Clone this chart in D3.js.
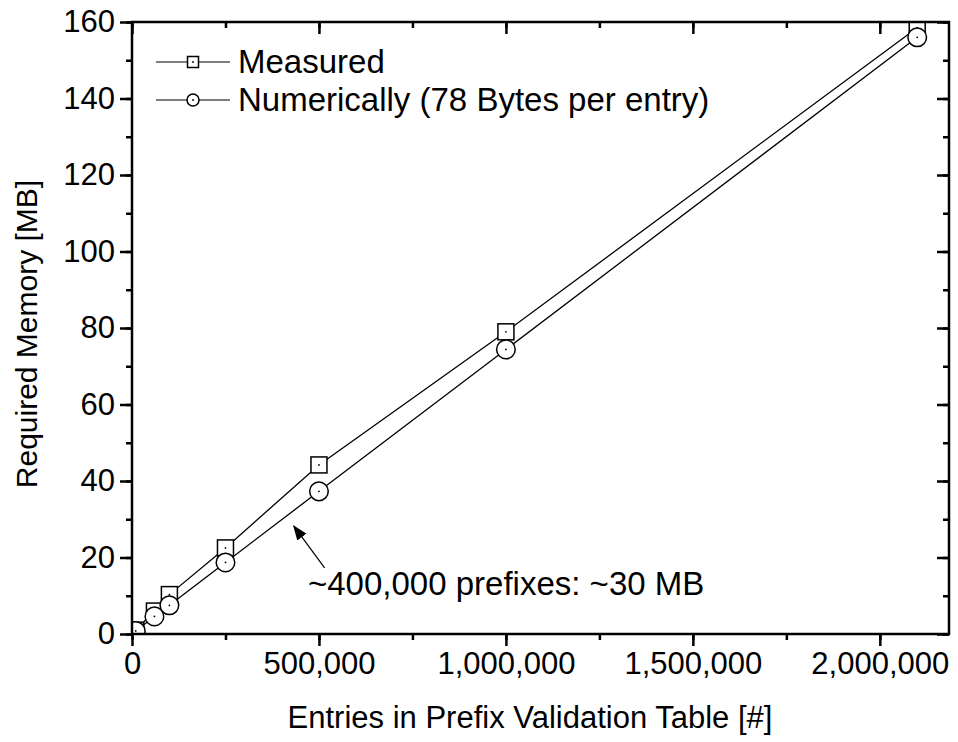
<!DOCTYPE html>
<html>
<head>
<meta charset="utf-8">
<script src="https://cdn.jsdelivr.net/npm/d3@7"></script>
<style>
  body { margin: 0; background: #fff; }
  text { font-family: "Liberation Sans", Arial, sans-serif; fill: #000; }
</style>
</head>
<body>
<svg id="svg" width="958" height="742"></svg>
<script>
// entries in the table
const entries = [10000, 60000, 100000, 250000, 500000, 1000000, 2100000];
// measured memory in MB
const measured = [1.0, 6.0, 10.3, 22.5, 44.2, 79.0, 158.5];
// computed memory in MB (78 bytes per entry)
const numerically = [0.8, 4.6, 7.5, 18.7, 37.3, 74.4, 156.0];
const xTicks = [0, 500000, 1000000, 1500000, 2000000];
const yTicks = [0, 20, 40, 60, 80, 100, 120, 140, 160];
const seriesNames = ["Measured", "Numerically (78 Bytes per entry)"];
const noteText = "~400,000 prefixes: ~30 MB";

let container = d3.select("#svg");
const pLeft = 132, pRight = 949, pTop = 22, pBottom = 634;
const tickFont = 31;

let xScale = d3.scaleLinear().domain([0, 2185000]).range([pLeft, pRight]);
let yScale = d3.scaleLinear().domain([0, 160]).range([pBottom, pTop]);

let defs = container.append("defs");
defs
  .append("marker")
  .attr("id", "arrow")
  .attr("viewBox", "0 0 10 10")
  .attr("refX", 9)
  .attr("refY", 5)
  .attr("markerWidth", 15)
  .attr("markerHeight", 15)
  .attr("markerUnits", "userSpaceOnUse")
  .attr("orient", "auto")
  .append("path")
  .attr("d", "M0,1.2 L10,5 L0,8.8 Z")
  .attr("fill", "#000");
defs
  .append("clipPath")
  .attr("id", "plotclip")
  .append("rect")
  .attr("x", pLeft)
  .attr("y", pTop)
  .attr("width", pRight - pLeft)
  .attr("height", pBottom - pTop);

let plot = container.append("g").attr("clip-path", "url(#plotclip)");

// lines
let lineGen = d3
  .line()
  .x((d) => xScale(d[0]))
  .y((d) => yScale(d[1]));

[measured, numerically].forEach((vals) => {
  plot
    .append("path")
    .datum(vals.map((v, i) => [entries[i], v]))
    .attr("d", lineGen)
    .attr("fill", "none")
    .attr("stroke", "#000")
    .attr("stroke-width", 1.3);
});

function drawSquare(g, cx, cy, s) {
  g.append("rect")
    .attr("x", cx - s / 2)
    .attr("y", cy - s / 2)
    .attr("width", s)
    .attr("height", s)
    .attr("fill", "#fff")
    .attr("stroke", "#000")
    .attr("stroke-width", 1.5);
  g.append("circle").attr("cx", cx).attr("cy", cy).attr("r", 0.9).attr("fill", "#000");
}
function drawCircle(g, cx, cy, r) {
  g.append("circle")
    .attr("cx", cx)
    .attr("cy", cy)
    .attr("r", r)
    .attr("fill", "#fff")
    .attr("stroke", "#000")
    .attr("stroke-width", 1.5);
  g.append("circle").attr("cx", cx).attr("cy", cy).attr("r", 0.9).attr("fill", "#000");
}

measured.forEach((v, i) => drawSquare(plot, xScale(entries[i]), yScale(v), 16));
numerically.forEach((v, i) => drawCircle(plot, xScale(entries[i]), yScale(v), 9.3));

// axes
const xMinor = d3.range(0, 2185000, 250000);
const yMinor = d3.range(0, 161, 10);

function styleTicks(g) {
  g.selectAll(".domain").remove();
  g.selectAll("line").attr("stroke", "#000").attr("stroke-width", 2.5);
  g.selectAll("text").style("font-size", tickFont + "px").attr("font-family", null);
}

function addAxis(axisFn, scale, values, size, transform, labels, pad) {
  let ax = axisFn(scale).tickValues(values).tickSize(size).tickPadding(pad || 6);
  if (!labels) ax.tickFormat("");
  else ax.tickFormat(d3.format(","));
  container.append("g").attr("transform", transform).call(ax).call(styleTicks);
}

// bottom and left, outward
addAxis(d3.axisBottom, xScale, xTicks, 12, "translate(0," + pBottom + ")", true, 6);
addAxis(d3.axisBottom, xScale, xMinor, 6, "translate(0," + pBottom + ")", false);
addAxis(d3.axisLeft, yScale, yTicks, 12, "translate(" + pLeft + ",0)", true, 5);
addAxis(d3.axisLeft, yScale, yMinor, 6, "translate(" + pLeft + ",0)", false);
// top and right, inward
addAxis(d3.axisBottom, xScale, xTicks, 12, "translate(0," + pTop + ")", false);
addAxis(d3.axisBottom, xScale, xMinor, 6, "translate(0," + pTop + ")", false);
addAxis(d3.axisLeft, yScale, yTicks, 12, "translate(" + pRight + ",0)", false);
addAxis(d3.axisLeft, yScale, yMinor, 6, "translate(" + pRight + ",0)", false);

// frame
container
  .append("rect")
  .attr("x", pLeft)
  .attr("y", pTop)
  .attr("width", pRight - pLeft)
  .attr("height", pBottom - pTop)
  .attr("fill", "none")
  .attr("stroke", "#000")
  .attr("stroke-width", 2.5);

// axis titles
container
  .append("text")
  .attr("x", 530)
  .attr("y", 728)
  .attr("text-anchor", "middle")
  .style("font-size", "31px")
  .text("Entries in Prefix Validation Table [#]");
container
  .append("text")
  .attr("transform", "translate(37,334) rotate(-90)")
  .attr("text-anchor", "middle")
  .style("font-size", "30px")
  .text("Required Memory [MB]");

// legend
var legend = container
  .selectAll(".legend")
  .data(seriesNames)
  .enter()
  .append("g")
  .attr("class", "legend")
  .attr("transform", (d, i) => "translate(156," + (62 + i * 38) + ")");
legend
  .append("line")
  .attr("x1", 0)
  .attr("x2", 74)
  .attr("stroke", "#000")
  .attr("stroke-width", 1.2);
legend.each(function (d, i) {
  if (i === 0) drawSquare(d3.select(this), 37, 0, 11);
  else drawCircle(d3.select(this), 37, 0, 6);
});
legend
  .append("text")
  .attr("x", 82)
  .attr("y", 11)
  .style("font-size", "33px")
  .text((d) => d);

// annotation
container
  .append("line")
  .attr("x1", xScale(515000))
  .attr("y1", yScale(17.3))
  .attr("x2", xScale(433000))
  .attr("y2", yScale(28.2))
  .attr("stroke", "#000")
  .attr("stroke-width", 1.2)
  .attr("marker-end", "url(#arrow)");
container
  .append("text")
  .attr("x", 308)
  .attr("y", 595)
  .style("font-size", "33px")
  .text(noteText);
</script>
</body>
</html>
